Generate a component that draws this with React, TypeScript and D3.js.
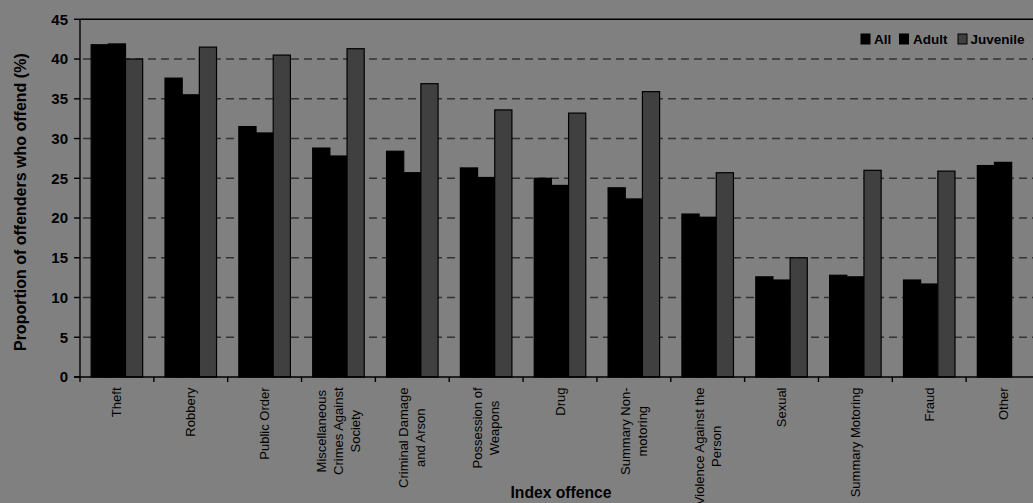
import React, { useEffect, useRef } from "react";
import * as d3 from "d3";

// Offence categories, each split into the lines shown under the axis
const categoryLines: string[][] = [
  ["Theft"],
  ["Robbery"],
  ["Public Order"],
  ["Miscellaneous", "Crimes Against", "Society"],
  ["Criminal Damage", "and Arson"],
  ["Possession of", "Weapons"],
  ["Drug"],
  ["Summary Non-", "motoring"],
  ["Violence Against the", "Person"],
  ["Sexual"],
  ["Summary Motoring"],
  ["Fraud"],
  ["Other"],
];

const seriesNames = ["All", "Adult", "Juvenile"];

// Proportion of offenders who offend (%)
const allValues = [41.8, 37.6, 31.5, 28.8, 28.4, 26.3, 25.0, 23.8, 20.5, 12.6, 12.8, 12.2, 26.6];
const adultValues = [41.9, 35.5, 30.7, 27.8, 25.7, 25.1, 24.1, 22.4, 20.1, 12.2, 12.6, 11.7, 27.0];
const juvenileValues: (number | null)[] = [40.0, 41.5, 40.5, 41.3, 36.9, 33.6, 33.2, 35.9, 25.7, 15.0, 26.0, 25.9, null];

const yTicks = [0, 5, 10, 15, 20, 25, 30, 35, 40, 45];

const W = 1033;
const H = 503;
const FONT = "'Liberation Sans', Arial, sans-serif";
const BG = "#808080";
const seriesFill: Record<string, string> = { All: "#000000", Adult: "#000000", Juvenile: "#404040" };

export default function App() {
  const ref = useRef<SVGSVGElement | null>(null);

  useEffect(() => {
    const svg = d3.select(ref.current);
    svg.selectAll("*").remove();

    const left = 80;
    const right = 1040;
    const top = 19.3;
    const bottom = 377;

    const x = d3
      .scaleBand<number>()
      .domain(d3.range(categoryLines.length))
      .range([left, right])
      .paddingInner(0)
      .paddingOuter(0);
    const xs = d3
      .scaleBand<string>()
      .domain(seriesNames)
      .range([0, x.bandwidth()])
      .paddingInner(0)
      .paddingOuter(0.65);
    const y = d3.scaleLinear().domain([0, 45]).range([bottom, top]);

    svg.append("rect").attr("width", W).attr("height", H).attr("fill", BG);

    // dashed gridlines
    svg
      .append("g")
      .selectAll("line")
      .data(yTicks.filter((t) => t > 0 && t < 45))
      .join("line")
      .attr("x1", left)
      .attr("x2", right)
      .attr("y1", (d) => y(d))
      .attr("y2", (d) => y(d))
      .attr("stroke", "#333333")
      .attr("stroke-width", 1.6)
      .attr("stroke-dasharray", "8,5")
      .attr("stroke-dashoffset", -3);

    // bars
    const rows = categoryLines.map((_, i) => ({
      i,
      vals: [
        { s: "All", v: allValues[i] },
        { s: "Adult", v: adultValues[i] },
        { s: "Juvenile", v: juvenileValues[i] },
      ],
    }));
    const groups = svg
      .append("g")
      .selectAll("g")
      .data(rows)
      .join("g")
      .attr("transform", (d) => `translate(${x(d.i)},0)`);
    groups
      .selectAll("rect")
      .data((d) => d.vals.filter((b) => b.v != null) as { s: string; v: number }[])
      .join("rect")
      .attr("x", (b) => xs(b.s)!)
      .attr("width", xs.bandwidth())
      .attr("y", (b) => y(b.v))
      .attr("height", (b) => y(0) - y(b.v))
      .attr("fill", (b) => seriesFill[b.s])
      .attr("stroke", "#000")
      .attr("stroke-width", 1.2);

    // frame top and axes
    const axisG = svg.append("g").attr("stroke", "#000").attr("stroke-width", 1.4);
    axisG.append("line").attr("x1", left).attr("x2", right).attr("y1", top).attr("y2", top);
    axisG.append("line").attr("x1", left).attr("x2", left).attr("y1", top).attr("y2", bottom);
    axisG.append("line").attr("x1", left - 6).attr("x2", right).attr("y1", bottom).attr("y2", bottom);
    axisG
      .selectAll("line.yt")
      .data(yTicks)
      .join("line")
      .attr("class", "yt")
      .attr("x1", left - 6)
      .attr("x2", left)
      .attr("y1", (d) => y(d))
      .attr("y2", (d) => y(d));
    axisG
      .selectAll("line.xt")
      .data(d3.range(categoryLines.length + 1))
      .join("line")
      .attr("class", "xt")
      .attr("x1", (i) => left + i * x.step())
      .attr("x2", (i) => left + i * x.step())
      .attr("y1", bottom)
      .attr("y2", bottom + 5);

    // y tick labels
    svg
      .append("g")
      .selectAll("text")
      .data(yTicks)
      .join("text")
      .attr("x", 68)
      .attr("y", (d) => y(d))
      .attr("dy", "0.36em")
      .attr("text-anchor", "end")
      .attr("font-family", FONT)
      .attr("font-weight", "bold")
      .attr("font-size", 15)
      .attr("fill", "#000")
      .text((d) => String(d));

    // category labels, rotated, lines centred on the longest line
    const labelTop = 387.5;
    const lineGap = 17;
    categoryLines.forEach((lines, i) => {
      const cx = x(i)! + x.bandwidth() / 2;
      const g = svg.append("g");
      const texts = lines.map((ln) =>
        g
          .append("text")
          .attr("font-family", FONT)
          .attr("font-size", 13)
          .attr("fill", "#000")
          .attr("text-anchor", "middle")
          .attr("dy", "0.35em")
          .text(ln)
      );
      const maxLen = d3.max(texts, (t) => (t.node() as SVGTextElement).getComputedTextLength()) || 0;
      const cy = labelTop + maxLen / 2;
      texts.forEach((t, k) => {
        const lx = cx + (k - (lines.length - 1) / 2) * lineGap;
        t.attr("transform", `translate(${lx},${cy}) rotate(-90)`);
      });
    });

    // axis titles
    svg
      .append("text")
      .attr("transform", `translate(20,${(top + bottom) / 2 + 4}) rotate(-90)`)
      .attr("text-anchor", "middle")
      .attr("dy", "0.35em")
      .attr("font-family", FONT)
      .attr("font-weight", "bold")
      .attr("font-size", 16)
      .attr("fill", "#000")
      .text("Proportion of offenders who offend (%)");
    svg
      .append("text")
      .attr("x", 561)
      .attr("y", 498)
      .attr("text-anchor", "middle")
      .attr("font-family", FONT)
      .attr("font-weight", "bold")
      .attr("font-size", 15.7)
      .attr("fill", "#000")
      .text("Index offence");

    // legend
    const legendItems = [
      { s: "All", sx: 861, tx: 874 },
      { s: "Adult", sx: 899.5, tx: 913 },
      { s: "Juvenile", sx: 958, tx: 970.5 },
    ];
    const lg = svg.append("g");
    legendItems.forEach((it) => {
      lg.append("rect")
        .attr("x", it.sx)
        .attr("y", 34)
        .attr("width", 9)
        .attr("height", 10)
        .attr("fill", seriesFill[it.s])
        .attr("stroke", "#000")
        .attr("stroke-width", 1);
      lg.append("text")
        .attr("x", it.tx)
        .attr("y", 43.5)
        .attr("font-family", FONT)
        .attr("font-weight", "bold")
        .attr("font-size", 13.5)
        .attr("fill", "#000")
        .text(it.s);
    });
  }, []);

  return (
    <svg
      ref={ref}
      width={W}
      height={H}
      style={{ position: "fixed", left: 0, top: 0, display: "block", background: BG }}
    />
  );
}
